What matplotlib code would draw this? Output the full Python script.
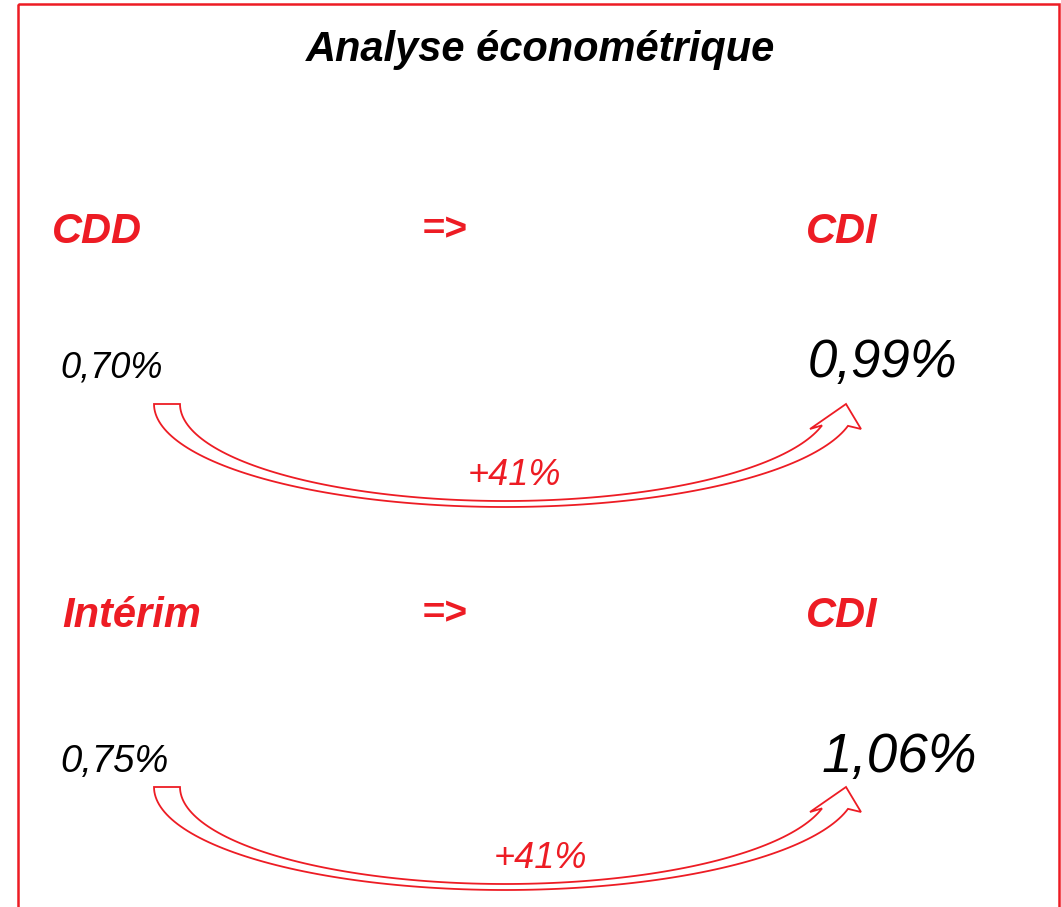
import numpy as np
import matplotlib
matplotlib.use("Agg")
import matplotlib.pyplot as plt
from matplotlib.path import Path
from matplotlib.patches import PathPatch, Rectangle

# data
title = "Analyse économétrique"
origins = ["CDD", "Intérim"]
targets = ["CDI", "CDI"]
rate_from = [0.70, 0.75]      # %
rate_to = [0.99, 1.06]        # %
growth = [41, 41]             # %

RED = "#ED1C24"
plt.rcParams['font.family'] = ['Liberation Sans', 'DejaVu Sans']


def fr(v):
    return f"{v:.2f}".replace(".", ",") + "%"


def curved_arrow(ax, dy, lw=1.3):
    """outline of a curved-up block arrow (pixel coords, shifted by dy)"""
    cx = 505
    a_in, b_in, cy_in = 325, 97, 404 + dy
    a_out, b_out, cy_out = 351, 103, 404 + dy
    t_in_end = np.arccos((822 - cx) / a_in)
    t_out_end = np.arccos((848 - cx) / a_out)
    t_in = np.linspace(np.pi, t_in_end, 120)
    t_out = np.linspace(t_out_end, np.pi, 120)
    pts = [(cx - a_out, 404 + dy), (cx - a_in, 404 + dy)]
    pts += list(zip(cx + a_in * np.cos(t_in), cy_in + b_in * np.sin(t_in)))
    pts += [(810, 429 + dy), (846, 404 + dy), (861, 429 + dy)]
    pts += list(zip(cx + a_out * np.cos(t_out), cy_out + b_out * np.sin(t_out)))
    pts.append(pts[0])
    codes = [Path.MOVETO] + [Path.LINETO] * (len(pts) - 2) + [Path.CLOSEPOLY]
    ax.add_patch(PathPatch(Path(pts, codes), facecolor="white", edgecolor=RED,
                           lw=lw, joinstyle="miter"))


fig = plt.figure(figsize=(10.61, 9.07), dpi=100)
ax = fig.add_axes([0, 0, 1, 1])
ax.set_xlim(0, 1061)
ax.set_ylim(907, 0)
ax.axis("off")

# frame (bottom edge is cut off)
ax.add_patch(Rectangle((18, 4), 1041, 950, fill=False, edgecolor=RED, lw=1.8))

ax.text(540, 61, title, fontsize=30, fontweight="bold", fontstyle="italic",
        ha="center", va="baseline", color="black")

row_base = [243, 627]
val_base = [378, 772]
big_base = [377, 772]
from_x = [60, 60]
origin_x = [52, 62]
from_size = [26, 27.5]
to_size = [38, 39.5]
to_x = [808, 822]
gain_x = [514, 540]
arrow_dy = [0, 383]

for i in range(len(origins)):
    ax.text(origin_x[i], row_base[i], origins[i], fontsize=30, fontweight="bold",
            fontstyle="italic", color=RED, ha="left", va="baseline")
    ax.text(422, row_base[i] - 3, "=>", fontsize=28, fontweight="bold",
            fontstyle="italic", color=RED, ha="left", va="baseline")
    ax.text(806, row_base[i], targets[i], fontsize=30, fontweight="bold",
            fontstyle="italic", color=RED, ha="left", va="baseline")
    ax.text(from_x[i], val_base[i], fr(rate_from[i]), fontsize=from_size[i],
            fontstyle="italic", color="black", ha="left", va="baseline")
    ax.text(to_x[i], big_base[i], fr(rate_to[i]), fontsize=to_size[i],
            fontstyle="italic", color="black", ha="left", va="baseline")
    curved_arrow(ax, arrow_dy[i])
    ax.text(gain_x[i], 485 + arrow_dy[i], f"+{growth[i]}%", fontsize=26,
            fontstyle="italic", color=RED, ha="center", va="baseline")

fig.savefig("out.png", dpi=100)
